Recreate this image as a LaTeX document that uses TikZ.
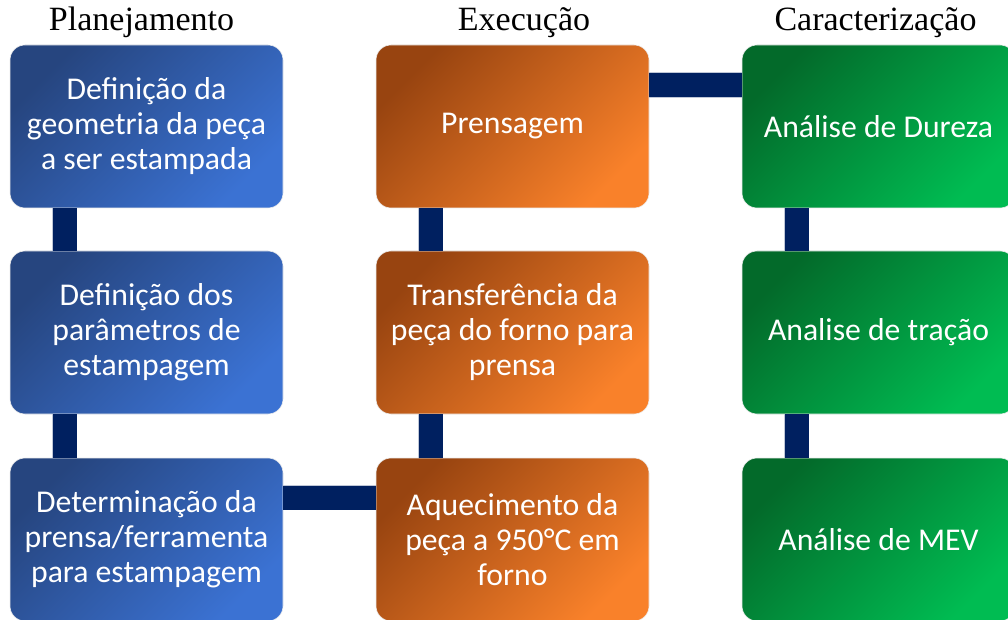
\documentclass[tikz,border=0pt]{standalone}
\usepackage{fontspec}
\usepackage{tikz}
\setmainfont{Carlito}
\newfontfamily\headfont{Liberation Serif}

\definecolor{planA}{HTML}{26457F}
\definecolor{planB}{HTML}{3B72D3}
\definecolor{execA}{HTML}{984410}
\definecolor{execB}{HTML}{F9812A}
\definecolor{caraA}{HTML}{036A2A}
\definecolor{caraB}{HTML}{00BC52}
\definecolor{barra}{HTML}{002060}

\tikzset{
	etapa/.style={shape=rectangle, rounded corners=15pt, draw=white!85!gray, line width=0.6pt,
		minimum width=273pt, minimum height=163pt, inner sep=0pt, outer sep=0pt,
		align=center, text=white, font=\fontsize{31.7}{35}\selectfont},
	plan/.style={etapa, top color=planA, bottom color=planB, shading angle=45},
	exec/.style={etapa, top color=execA, bottom color=execB, shading angle=45},
	cara/.style={etapa, top color=caraA, bottom color=caraB, shading angle=45},
	titulo/.style={anchor=base, inner sep=0pt, font=\headfont\fontsize{34}{34}\selectfont, text=black},
	barra/.style={draw=white!75!barra, line width=0.6pt, double=barra, double distance=24pt}
}

\begin{document}
\begin{tikzpicture}[x=1pt, y=1pt]

	\useasboundingbox (0,0) rectangle (1008,619);

	\node[titulo] (t1) at (141.5, 588) {Planejamento};
	\node[titulo] (t2) at (524, 588) {Execução};
	\node[titulo] (t3) at (875.5, 588) {Caracterização};


	\node[plan] (p1) at (146.5, 492.5) {Definição da\\geometria da peça\\a ser estampada};
	\node[plan] (p2) at (146.5, 286.5) {Definição dos\\parâmetros de\\estampagem};
	\node[plan] (p3) at (146.5, 79.5)  {Determinação da\\prensa/ferramenta\\para estampagem};


	\node[exec] (e1) at (512.5, 492.5) {Prensagem};
	\node[exec] (e2) at (512.5, 286.5) {Transferência da\\peça do forno para\\prensa};
	\node[exec] (e3) at (512.5, 79.5)  {Aquecimento da\\peça a 950°C em\\forno};


	\node[cara] (c1) at (878.5, 492.5) {Análise de Dureza};
	\node[cara] (c2) at (878.5, 286.5) {Analise de tração};
	\node[cara] (c3) at (878.5, 79.5)  {Análise de MEV};


	\draw[barra] ([xshift=54.5pt]p1.south west) -- ([xshift=54.5pt]p2.north west);
	\draw[barra] ([xshift=54.5pt]p2.south west) -- ([xshift=54.5pt]p3.north west);
	\draw[barra] ([yshift=-39.5pt]p3.north east) -- ([yshift=-39.5pt]e3.north west);

	\draw[barra] ([xshift=54.5pt]e3.north west) -- ([xshift=54.5pt]e2.south west);
	\draw[barra] ([xshift=54.5pt]e2.north west) -- ([xshift=54.5pt]e1.south west);
	\draw[barra] ([yshift=-40pt]e1.north east) -- ([yshift=-40pt]c1.north west);

	\draw[barra] ([xshift=54.5pt]c1.south west) -- ([xshift=54.5pt]c2.north west);
	\draw[barra] ([xshift=54.5pt]c2.south west) -- ([xshift=54.5pt]c3.north west);

\end{tikzpicture}
\end{document}
